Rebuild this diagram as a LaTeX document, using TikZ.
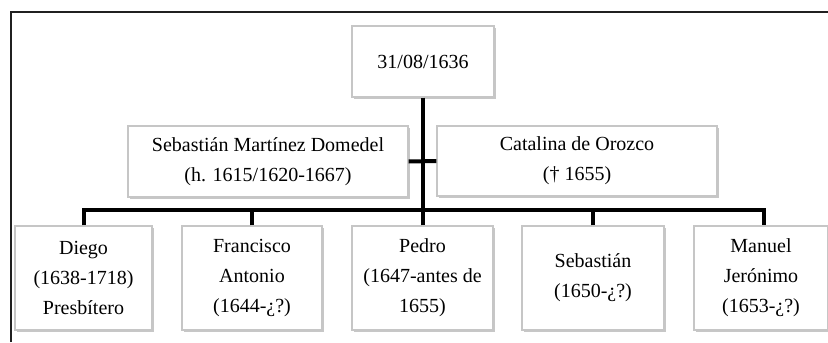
\documentclass[tikz,border=0pt]{standalone}
\usepackage{fontspec}
\setmainfont{Liberation Serif}
\usetikzlibrary{shadows}
\tikzset{
  famcard/.style={draw=gray!45, fill=white, line width=0.6pt, align=center,
    inner sep=0pt, font=\fontsize{10}{15}\selectfont,
    drop shadow={shadow xshift=1.2pt, shadow yshift=-1.2pt, fill=gray!55, opacity=0.8}},
  kinline/.style={line width=2pt, line join=miter}
}
\begin{document}
\begin{tikzpicture}[x=0.5pt, y=-0.5pt]
  \useasboundingbox (0,0) rectangle (828,342);
  \draw[gray!25!black, line width=1.4pt] (11,342) -- (11,12) -- (828,12);
  % boda y padres
  \node[famcard, minimum width=71pt, minimum height=35.5pt] (boda) at (423,61.5) {31/08/1636};
  \node[famcard, minimum width=140pt, minimum height=35.5pt] (padre) at (268,161.5)
    {Sebastián Martínez Domedel\\(h. 1615/1620-1667)};
  \node[famcard, minimum width=140pt, minimum height=35pt] (madre) at (577,161)
    {Catalina de Orozco\\(† 1655)};
  % hijos
  \node[famcard, minimum width=68.5pt, minimum height=52pt] (diego) at (83.5,278)
    {Diego\\(1638-1718)\\Presbítero};
  \node[famcard, minimum width=70pt, minimum height=52pt] (francisco) at (252,278)
    {Francisco\\Antonio\\(1644-¿?)};
  \node[famcard, minimum width=70.5pt, minimum height=52pt] (pedro) at (422.5,278)
    {Pedro\\(1647-antes de\\1655)};
  \node[famcard, minimum width=71pt, minimum height=52pt] (sebastian) at (593,278)
    {Sebastián\\(1650-¿?)};
  \node[famcard, minimum width=67pt, minimum height=52pt] (manuel) at (761,278)
    {Manuel\\Jerónimo\\(1653-¿?)};
  \coordinate (bus) at (423,210);
  % lineas
  \draw[kinline] (padre.east) -- (madre.west);
  \draw[kinline] (boda.south) -- (bus);
  \draw[kinline] (diego.north) |- (bus) -| ([xshift=1.5pt]manuel.north);
  \foreach \n in {francisco,pedro,sebastian}
    \draw[kinline] (\n.north) -- (\n.north |- bus);
\end{tikzpicture}
\end{document}
